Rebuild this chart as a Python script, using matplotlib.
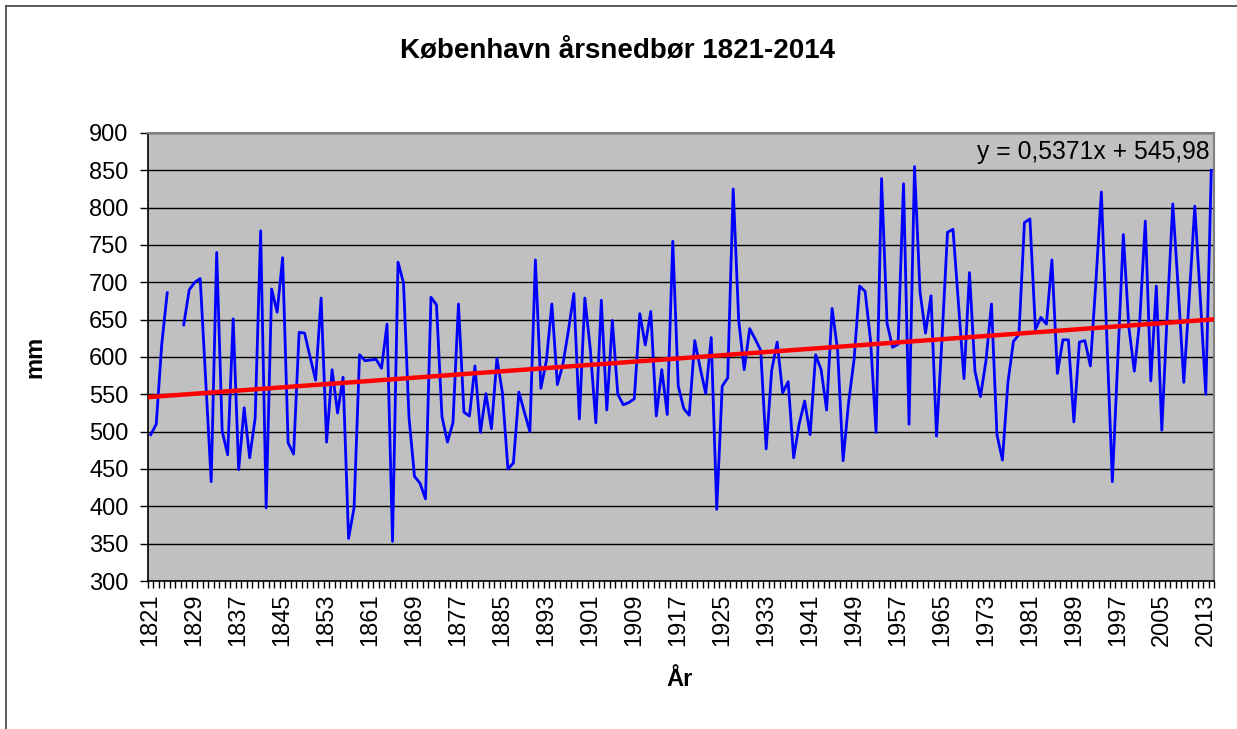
import numpy as np
import matplotlib
matplotlib.use("Agg")
import matplotlib.pyplot as plt
from matplotlib.ticker import FixedLocator, MultipleLocator

plt.rcParams['font.family'] = ['Liberation Sans', 'DejaVu Sans']

years = np.arange(1821, 2015)
nan = np.nan
precip = [
    496, 510, 617, 686, nan, nan, 643, 690, 700, 705,      # 1821-1830
    570, 433, 740, 501, 469, 651, 449, 532, 465, 518,      # 1831-1840
    769, 398, 691, 660, 733, 485, 470, 633, 632, 600,      # 1841-1850
    569, 679, 486, 583, 525, 573, 357, 398, 603, 595,      # 1851-1860
    596, 597, 585, 644, 353, 727, 699, 519, 440, 431,      # 1861-1870
    410, 680, 670, 520, 486, 512, 671, 526, 521, 588,      # 1871-1880
    499, 551, 504, 598, 552, 450, 458, 553, 526, 500,      # 1881-1890
    730, 558, 595, 671, 563, 590, 635, 685, 517, 679,      # 1891-1900
    610, 512, 676, 529, 649, 550, 536, 539, 544, 658,      # 1901-1910
    616, 661, 521, 583, 523, 755, 561, 531, 522, 622,      # 1911-1920
    585, 551, 626, 396, 561, 572, 825, 649, 583, 638,      # 1921-1930
    624, 609, 477, 582, 620, 552, 567, 465, 510, 541,      # 1931-1940
    496, 603, 583, 529, 665, 609, 461, 539, 597, 695,      # 1941-1950
    688, 622, 499, 839, 645, 613, 617, 832, 510, 855,      # 1951-1960
    687, 632, 682, 494, 625, 767, 771, 670, 571, 713,      # 1961-1970
    581, 547, 595, 671, 496, 462, 566, 621, 630, 780,      # 1971-1980
    785, 637, 653, 644, 730, 578, 623, 623, 513, 620,      # 1981-1990
    622, 588, 700, 821, 625, 433, 600, 764, 640, 581,      # 1991-2000
    650, 782, 568, 695, 502, 660, 805, 690, 566, 680,      # 2001-2010
    802, 680, 550, 850,                                    # 2011-2014
]
precip = np.array(precip, dtype=float)

trend_slope = 0.5371
trend_intercept = 545.98
label_years = np.arange(1821, 2015, 8)

fig = plt.figure(figsize=(12.37, 7.29), dpi=100)
ax = fig.add_axes([148/1237, 1 - 581/729, (1214-148)/1237, (581-133)/729])
ax.set_facecolor('#C0C0C0')

ax.set_xlim(1820.5, 2014.5)
ax.set_ylim(300, 900)
ax.yaxis.set_major_locator(MultipleLocator(50))
ax.grid(axis='y', color='black', linewidth=1.0)
ax.set_axisbelow(True)

ax.plot(years, precip, color='#0000FF', linewidth=2.0, zorder=3)

tx = np.array(ax.get_xlim())
ty = trend_slope * (tx - 1820) + trend_intercept
ax.plot(tx, ty, color='#FF0000', linewidth=3.2, zorder=4, solid_capstyle='butt')

ax.xaxis.set_major_locator(FixedLocator(label_years))
ax.set_xticklabels([str(y) for y in label_years], rotation=90, fontsize=17)
ax.xaxis.set_minor_locator(FixedLocator(np.arange(1820.5, 2015, 1.0)))
ax.tick_params(axis='x', which='major', length=0, pad=9)
ax.tick_params(axis='x', which='minor', length=5, width=1, color='black')
ax.tick_params(axis='y', which='major', length=6, width=1, labelsize=17, pad=8)

for s in ['top', 'right']:
    ax.spines[s].set_color('#808080')
    ax.spines[s].set_linewidth(1.5)
for s in ['left', 'bottom']:
    ax.spines[s].set_color('black')
    ax.spines[s].set_linewidth(1.2)

ax.text(0.996, 0.958, 'y = 0,5371x + 545,98', transform=ax.transAxes,
        ha='right', va='center', fontsize=17.8)

fig.text(618/1237, 1 - 50/729, 'København årsnedbør 1821-2014', ha='center', va='center',
         fontsize=20, fontweight='bold')
fig.text(680/1237, 1 - 680/729, 'År', ha='center', va='center', fontsize=17, fontweight='bold')
fig.text(35/1237, 1 - 357/729, 'mm', ha='center', va='center', fontsize=17, fontweight='bold',
         rotation=90)

# chart area border (left and top visible in reference)
fig.add_artist(plt.Line2D([6/1237, 6/1237], [0, 1 - 6/729], transform=fig.transFigure,
                          color='#404040', linewidth=1.2))
fig.add_artist(plt.Line2D([6/1237, 1], [1 - 6/729, 1 - 6/729], transform=fig.transFigure,
                          color='#404040', linewidth=1.2))

fig.savefig('out.png', dpi=100, facecolor='white')
